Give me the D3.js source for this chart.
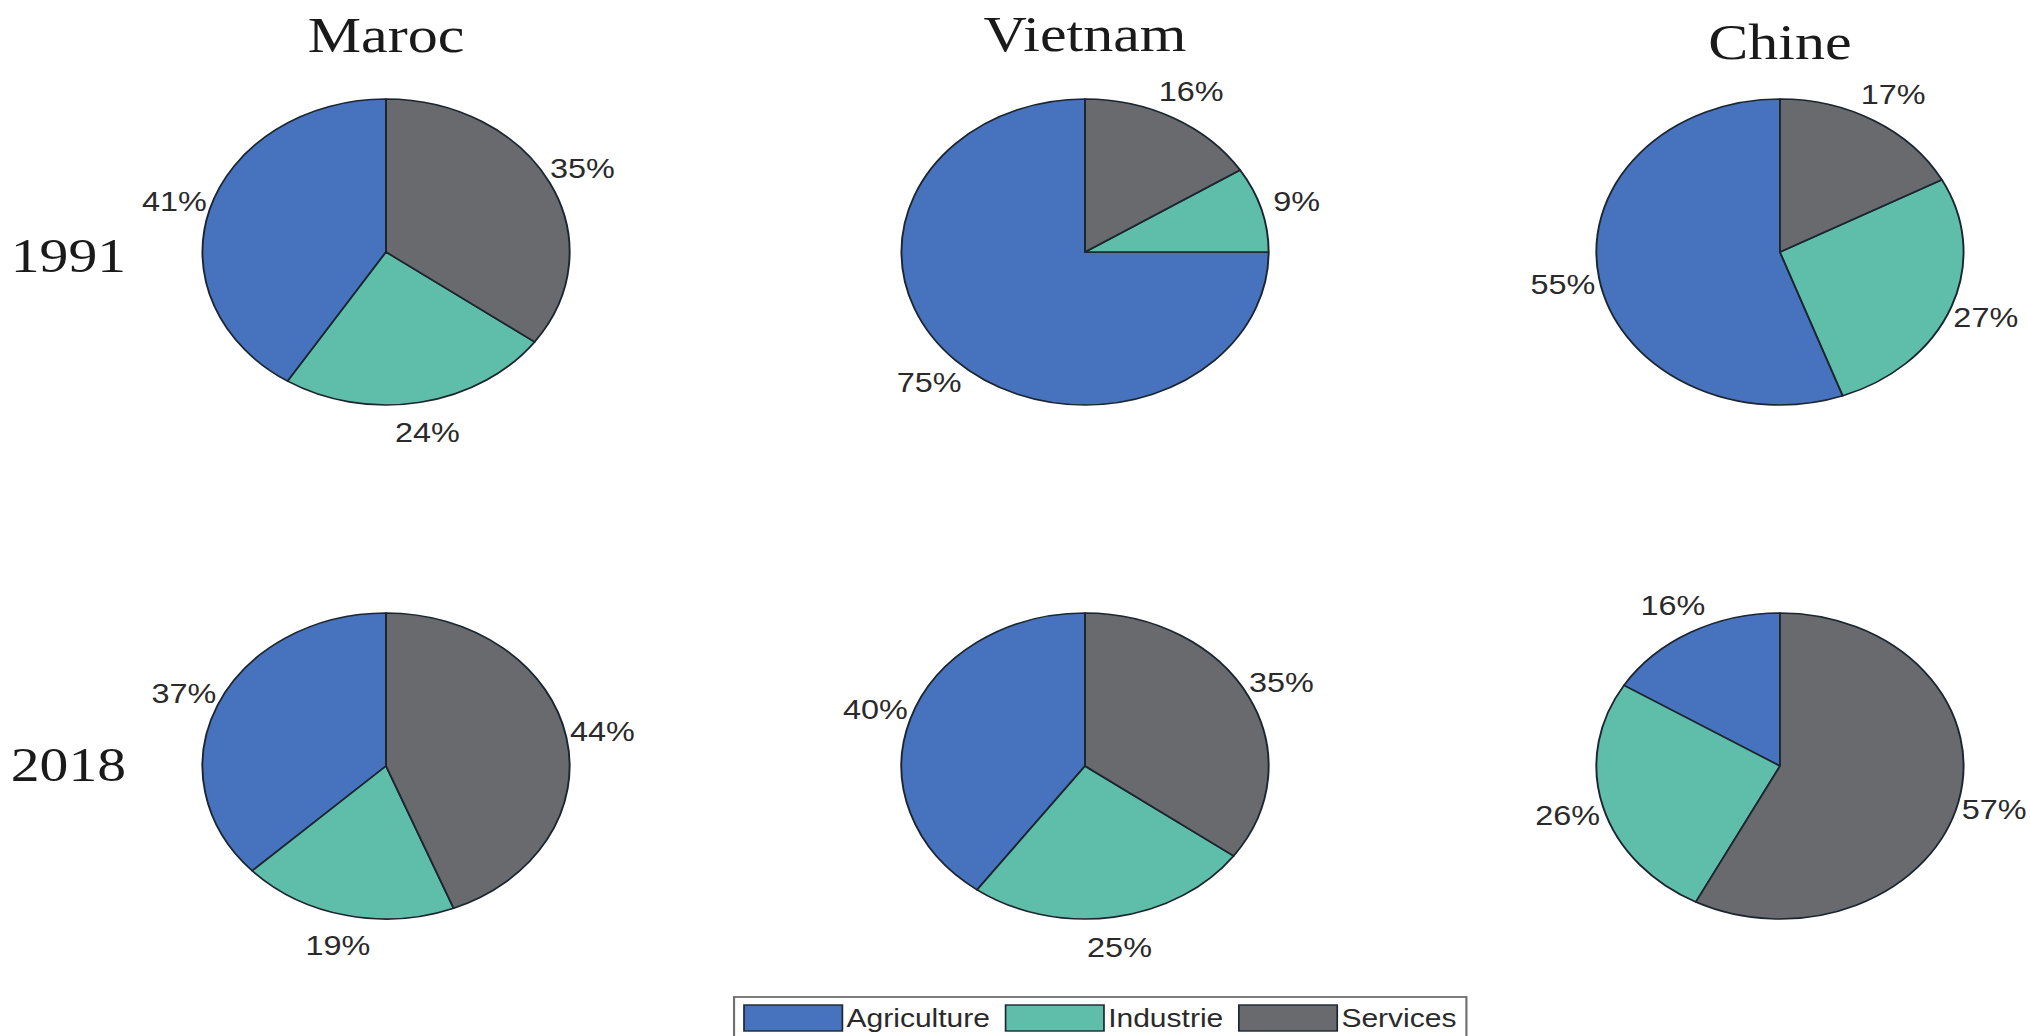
<!DOCTYPE html>
<html>
<head>
<meta charset="utf-8">
<script src="https://cdn.jsdelivr.net/npm/d3@7"></script>
<style>
  html, body { margin: 0; padding: 0; background: #ffffff; }
  svg { display: block; }
</style>
</head>
<body>
<svg id="chart" width="2030" height="1036"></svg>
<script>
// Répartition de l'emploi par secteur (%), 1991 et 2018
const countries = ["Maroc", "Vietnam", "Chine"];
const years = ["1991", "2018"];
const sectors = ["Agriculture", "Industrie", "Services"];
const values1991 = [
  [41, 24, 35],   // Maroc
  [75, 9, 16],    // Vietnam
  [55, 27, 17]    // Chine
];
const values2018 = [
  [37, 19, 44],   // Maroc
  [40, 25, 35],   // Vietnam
  [16, 26, 57]    // Chine
];
const sectorColors = ["#4773BE", "#5FBEAA", "#686A6E"];

const valuesByYear = [values1991, values2018];

const W = 2030, H = 1036;
const sx = 1.2;            // horizontal stretch of the whole figure
const R = 153;             // pie radius (before stretch)
const labelK = 1.2;        // label distance, in radii

const svg = d3.select("#chart");
svg.append("rect").attr("width", W).attr("height", H).attr("fill", "#ffffff");

const root = svg.append("g").attr("transform", `scale(${sx},1)`);

// column / row placement (inner, unstretched coordinates)
const colX = d3.scaleOrdinal().domain(countries).range([321.7, 904.2, 1483.3]);
const rowY = d3.scaleOrdinal().domain(years).range([252, 766]);
const titleY = d3.scaleOrdinal().domain(countries).range([52, 51, 59]);
const color = d3.scaleOrdinal().domain(sectors).range(sectorColors);

const pie = d3.pie()
  .sort(null)
  .value(d => d.value)
  .startAngle(0)
  .endAngle(-2 * Math.PI);   // counter-clockwise from 12 o'clock

const arc = d3.arc().innerRadius(0).outerRadius(R);
const labelArc = d3.arc().innerRadius(R * labelK).outerRadius(R * labelK);

// column titles
root.selectAll("text.country")
  .data(countries)
  .join("text")
  .attr("class", "country")
  .attr("x", d => colX(d))
  .attr("y", d => titleY(d))
  .attr("text-anchor", "middle")
  .attr("font-family", "'Liberation Serif', 'DejaVu Serif', serif")
  .attr("font-size", 50)
  .attr("fill", "#1a1a1a")
  .text(d => d);

// row titles
root.selectAll("text.year")
  .data(years)
  .join("text")
  .attr("class", "year")
  .attr("x", 9)
  .attr("y", (d, i) => rowY(d) + [20, 15][i])
  .attr("text-anchor", "start")
  .attr("font-family", "'Liberation Serif', 'DejaVu Serif', serif")
  .attr("font-size", 48)
  .attr("fill", "#1a1a1a")
  .text(d => d);

// pies
years.forEach((year, yi) => {
  countries.forEach((country, ci) => {
    const rows = sectors.map((s, si) => ({ sector: s, value: valuesByYear[yi][ci][si] }));
    const g = root.append("g")
      .attr("transform", `translate(${colX(country)},${rowY(year)})`);

    const slices = pie(rows);

    g.selectAll("path")
      .data(slices)
      .join("path")
      .attr("d", arc)
      .attr("fill", d => color(d.data.sector))
      .attr("stroke", "#1c2630")
      .attr("stroke-width", 1.6)
      .attr("stroke-linejoin", "round");

    g.selectAll("text")
      .data(slices)
      .join("text")
      .attr("transform", d => `translate(${labelArc.centroid(d)})`)
      .attr("text-anchor", "middle")
      .attr("dy", "0.36em")
      .attr("font-family", "'Liberation Sans', Arial, sans-serif")
      .attr("font-size", 27)
      .attr("fill", "#2a2a2a")
      .text(d => d.data.value + "%");
  });
});

// legend
const legend = root.append("g").attr("class", "legend");
const legTop = 997, swW = 82, swH = 26, swTop = 1005;
const legLeft = 611.7, padX = 8.3, gapText = 3.5, gapItem = 13;

const box = legend.append("rect")
  .attr("x", legLeft)
  .attr("y", legTop)
  .attr("height", 60)
  .attr("fill", "#ffffff")
  .attr("stroke", "#6f6f6f")
  .attr("stroke-width", 1.8);

let cursor = legLeft + padX;
sectors.forEach((s, i) => {
  legend.append("rect")
    .attr("x", cursor)
    .attr("y", swTop)
    .attr("width", swW)
    .attr("height", swH)
    .attr("fill", color(s))
    .attr("stroke", "#1c2630")
    .attr("stroke-width", 1.4);
  cursor += swW + gapText;
  const t = legend.append("text")
    .attr("x", cursor)
    .attr("y", swTop + swH / 2)
    .attr("dy", "0.36em")
    .attr("font-family", "'Liberation Sans', Arial, sans-serif")
    .attr("font-size", 25)
    .attr("fill", "#2a2a2a")
    .text(s);
  cursor += t.node().getComputedTextLength();
  if (i < sectors.length - 1) cursor += gapItem;
});
box.attr("width", cursor + padX - legLeft);
</script>
</body>
</html>
